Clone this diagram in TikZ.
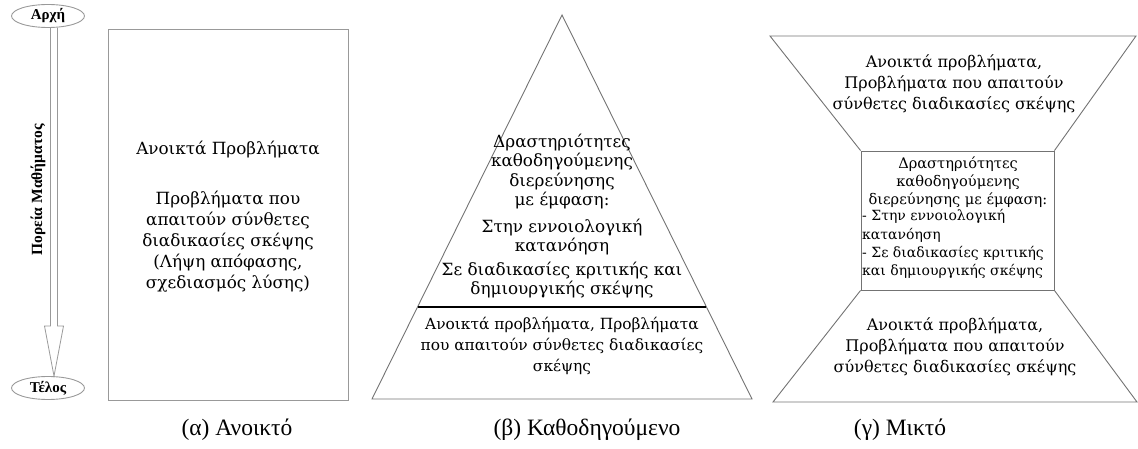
\documentclass[tikz,border=0pt]{standalone}
\usepackage{fontspec}
\setmainfont{DejaVu Serif}
\newfontfamily\capfont{Liberation Serif}
\usetikzlibrary{shapes.geometric,calc}
\begin{document}
\begin{tikzpicture}[x=1pt,y=-1pt,
  edge/.style={draw=black!55,line width=0.9pt},
  lightedge/.style={draw=black!40,line width=0.9pt},
  body/.style={align=center,font=\fontsize{16.8}{21}\selectfont,inner sep=0pt},
  mixtext/.style={align=center,font=\fontsize{16}{21}\selectfont,inner sep=0pt},
  small/.style={align=center,font=\fontsize{14.6}{18.3}\selectfont,inner sep=0pt},
  pill/.style={ellipse,draw=black!40,line width=0.9pt,minimum width=73pt,minimum height=23pt,inner sep=0pt,font=\capfont\fontsize{15}{16}\selectfont\bfseries},
  caption/.style={font=\capfont\fontsize{23.5}{26}\selectfont,inner sep=0pt}]
\useasboundingbox (0,0) rectangle (1138,449);

% --- (a) open lesson ---
\node[pill] (start) at (48,16) {Αρχή};
\node[pill] (end) at (48,388) {Τέλος};
\coordinate (a0) at ($(start.south)+(6,0)$);
\coordinate (a1) at ($(end.north)+(6,0)$);
\draw[lightedge,line width=0.8pt,line join=miter]
  ($(a0)+(-3.5,0)$) -- ($(a1)+(-3.5,-50)$) -- ($(a1)+(-9.5,-50)$) -- (a1)
  -- ($(a1)+(9.5,-50)$) -- ($(a1)+(3.5,-50)$) -- ($(a0)+(3.5,0)$);
\node[rotate=90,font=\capfont\fontsize{15.5}{16}\selectfont\bfseries,inner sep=0pt] (course) at (38,190) {Πορεία Μαθήματος};

\node[lightedge,minimum width=240pt,minimum height=371pt,inner sep=0pt] (openbox) at (228,214.5) {};
\node[body] (open1) at (228,150) {Ανοικτά Προβλήματα};
\node[body] (open2) at (228,242) {Προβλήματα που\\απαιτούν σύνθετες\\διαδικασίες σκέψης\\(Λήψη απόφασης,\\σχεδιασμός λύσης)};

% --- (b) guided lesson ---
\coordinate (apex) at (562,15);
\coordinate (bl) at (372,399);
\coordinate (br) at (752,399);
\draw[edge,line join=miter] (apex) -- (bl) -- (br) -- cycle;
\coordinate (dl) at ($(apex)!0.7604!(bl)$);
\coordinate (dr) at ($(apex)!0.7604!(br)$);
\draw[black,line width=1.8pt] (dl) -- (dr);
\node[body,font=\fontsize{16.8}{19.5}\selectfont] (g1) at (562,171.5) {Δραστηριότητες\\καθοδηγούμενης\\διερεύνησης\\με έμφαση:};
\node[body,font=\fontsize{16.8}{19.5}\selectfont] (g2) at (562,237) {Στην εννοιολογική\\κατανόηση};
\node[body,font=\fontsize{16.8}{19.5}\selectfont] (g3) at (562,280) {Σε διαδικασίες κριτικής και\\δημιουργικής σκέψης};
\node[body,font=\fontsize{15.4}{21}\selectfont] (g4) at (562,346) {Ανοικτά προβλήματα, Προβλήματα\\που απαιτούν σύνθετες διαδικασίες\\σκέψης};

% --- (c) mixed lesson ---
\node[edge,minimum width=193pt,minimum height=139pt,inner sep=0pt] (mid) at (957.5,220.5) {};
\coordinate (tl) at (770,36);
\coordinate (tr) at (1136,36);
\coordinate (ll) at (773,402);
\coordinate (lr) at (1137,402);
\draw[edge,line join=miter] (mid.north west) -- (tl) -- (tr) -- (mid.north east);
\draw[edge,line join=miter] (mid.south west) -- (ll) -- (lr) -- (mid.south east);
\node[mixtext] (top) at (954,83.5) {Ανοικτά προβλήματα,\\Προβλήματα που απαιτούν\\σύνθετες διαδικασίες σκέψης};
\node[small] (m1) at (958,182) {Δραστηριότητες\\καθοδηγούμενης\\διερεύνησης με έμφαση:};
\node[small,align=left,anchor=west,font=\fontsize{14}{18.2}\selectfont] (m2) at (862,244) {- Στην εννοιολογική\\κατανόηση\\- Σε διαδικασίες κριτικής\\και δημιουργικής σκέψης};
\node[mixtext] (bottom) at (955,346.5) {Ανοικτά προβλήματα,\\Προβλήματα που απαιτούν\\σύνθετες διαδικασίες σκέψης};

% --- captions ---
\node[caption] (ca) at (237,430) {(α) Ανοικτό};
\node[caption] (cb) at (587,430) {(β) Καθοδηγούμενο};
\node[caption] (cc) at (900,430) {(γ) Μικτό};
\end{tikzpicture}
\end{document}
